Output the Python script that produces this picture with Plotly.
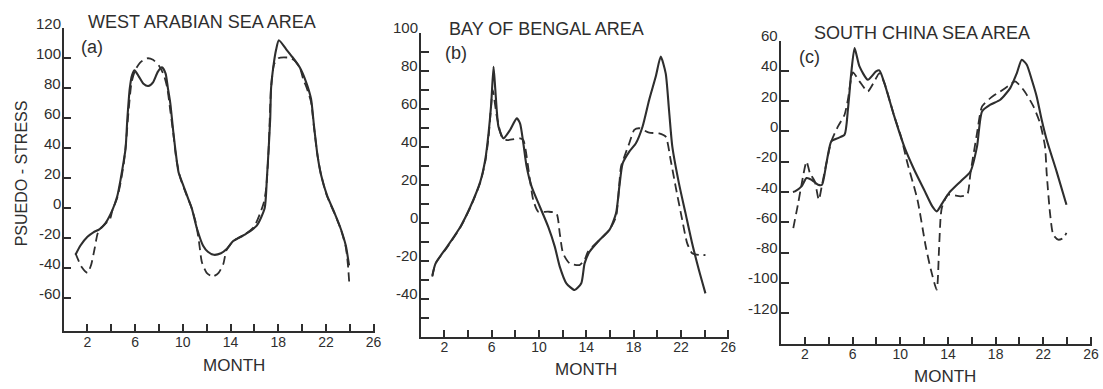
import plotly.graph_objects as go

# ---------------- data ----------------
# (a) West Arabian Sea area
a_solid_month = [1.0, 1.4, 2.0, 2.5, 3.0, 3.5, 4.1, 4.5, 4.8, 5.05, 5.2, 5.35, 5.55, 5.75, 5.95,
                 6.3, 6.7, 7.1, 7.5, 7.9, 8.25, 8.55, 8.75, 8.95, 9.2, 9.36, 9.64, 10.05, 10.47,
                 10.75, 11.2, 11.7, 12.1, 12.6, 13.2, 13.7, 14.2, 15.3, 16.2, 16.86, 17.05, 17.2,
                 17.33, 17.4, 17.6, 17.83, 18.05, 18.67, 19.2, 19.8, 20.3, 20.75, 21.0, 21.3,
                 21.6, 22.1, 22.7, 23.25, 23.67, 23.94]
a_solid_val = [-31, -25, -19, -16, -14, -10, -1, 8, 20, 32, 40, 60, 80, 89, 92,
               88, 83, 81.5, 84, 91, 94, 90, 80, 70, 51, 40, 24, 15, 6,
               0, -14, -25, -29, -31, -30, -27, -22, -17, -11.6, 0, 20, 40,
               60, 80, 95, 106, 112, 106, 100.7, 94, 85, 73, 55, 35,
               22, 8.4, -2.7, -13.8, -25, -38]
a_dash_month = [1.0, 1.5, 2.0, 2.3, 2.6, 2.85, 3.1, 3.9, 4.1, 4.5, 4.8, 5.05, 5.25, 5.45, 5.7,
                6.0, 6.4, 7.0, 7.5, 8.0, 8.4, 8.7, 8.95, 9.2, 9.45, 9.8, 10.3, 10.7, 11.1,
                11.35, 11.6, 12.0, 12.5, 13.0, 13.4, 13.65, 14.0, 14.4, 15.3, 16.0, 16.5,
                16.8, 17.0, 17.2, 17.4, 17.65, 18.0, 18.8, 19.3, 19.8, 20.1, 20.4, 20.75,
                21.0, 21.3, 21.6, 22.1, 22.7, 23.25, 23.67, 23.85, 23.95]
a_dash_val = [-30, -39, -43, -38, -27, -17, -13.5, -7, -1, 7, 18, 30, 45, 65, 84,
              92, 97, 100, 99, 95, 89, 80, 65, 50, 33, 20, 9, 1, -10,
              -22, -36, -43, -45.5, -43, -37, -28, -24, -21, -17, -12, -3,
              4, 14, 40, 80, 96, 100, 100.5, 99, 94, 86, 80, 71,
              54, 35, 22, 8, -3, -14, -26, -38, -49]

# (b) Bay of Bengal area
b_solid_month = [0.97, 1.25, 2.23, 3.35, 4.19, 5.03, 5.45, 5.73, 5.95, 6.15, 6.3, 6.57, 6.99,
                 7.55, 8.11, 8.39, 8.67, 8.95, 9.37, 10.07, 10.77, 11.33, 11.75, 12.31, 13.01,
                 13.57, 13.85, 14.27, 15.11, 15.95, 16.51, 16.79, 17.07, 17.63, 18.19, 18.75,
                 19.31, 19.87, 20.29, 20.71, 20.99, 21.27, 21.83, 22.39, 22.95, 23.52, 24.07]
b_solid_val = [-28, -21.5, -12.7, -2.2, 8.3, 21.5, 33, 47, 62, 82, 70, 50.4, 44.3,
               48.7, 54.8, 52.2, 41.7, 29.4, 18.9, 8.3, -2.2, -12.7, -23.2, -32, -35.5,
               -32, -21.5, -15.4, -9.2, -3.9, 4.8, 18.9, 31.1, 37.3, 41.7, 50.4,
               64.5, 76.8, 87.3, 78.5, 59.2, 39.9, 20.6, 4.8, -11, -25, -37.3]
b_dash_month = [0.97, 1.25, 2.23, 3.35, 4.19, 5.03, 5.45, 5.73, 6.01, 6.09, 6.43, 6.85, 7.27,
                8.39, 8.67, 9.23, 9.51, 9.93, 10.77, 11.47, 11.75, 12.03, 12.59, 13.43, 13.85,
                14.13, 15.11, 15.95, 16.51, 16.93, 17.21, 17.63, 18.05, 18.47, 19.31, 20.15,
                20.71, 21.13, 21.55, 22.11, 22.53, 22.95, 23.52, 24.07]
b_dash_val = [-28.5, -21.5, -13, -2.5, 8, 21, 32, 45, 66.2, 69.7, 55.7, 45.2, 43.4,
              44.3, 43.4, 22.4, 11.8, 5.7, 5.7, 4.8, -5.7, -16.2, -21.5, -22.4, -19.7,
              -15.4, -9.2, -3.9, 3.1, 29.4, 34.6, 41.7, 48.7, 49.6, 47.3, 46.9,
              45.2, 32.9, 18.9, 1.3, -11, -16.2, -17.1, -17.1]

# (c) South China Sea area
c_solid_month = [1.0, 1.17, 1.72, 2.14, 2.56, 3.11, 3.44, 3.81, 4.22, 4.78, 5.33, 5.61, 5.89,
                 6.17, 6.58, 7.28, 7.97, 8.25, 8.67, 9.5, 10.33, 11.17, 12.0, 12.69, 13.06,
                 13.53, 14.08, 15.06, 15.89, 16.44, 16.86, 17.56, 18.39, 19.22, 19.78, 20.19,
                 20.61, 21.03, 21.44, 21.86, 22.28, 23.11, 23.94]
c_solid_val = [-40, -39.6, -36.3, -30.8, -31.9, -35.2, -35.2, -20.9, -6.6, -4.4, -2.2, 14.3, 38.5,
               55, 42.9, 34.1, 39.6, 40.3, 31.9, 9.9, -9.9, -25.3, -38.5, -49.5, -52.8,
               -47.3, -40.7, -33, -26.4, -9.9, 13.2, 17.6, 20.9, 28.6, 38.5, 47.3,
               44, 34.1, 23.1, 7.7, -5.5, -26.4, -48.4]
c_dash_month = [1.03, 1.44, 1.72, 2.14, 2.42, 2.83, 3.17, 3.44, 3.81, 4.22, 4.78, 5.33, 5.61,
                6.03, 6.58, 7.28, 7.83, 8.25, 8.67, 9.5, 10.06, 10.6, 11.44, 12.14, 12.56,
                13.06, 13.25, 13.39, 13.5, 14.0, 15.06, 15.61, 15.89, 16.44, 16.86, 17.56,
                18.39, 19.22, 19.64, 20.33, 21.17, 21.72, 22.14, 22.28, 22.56, 22.83, 23.25,
                23.67, 23.94]
c_dash_val = [-63.8, -47.3, -35.2, -19.8, -27.5, -33, -45.1, -35.2, -20.9, -6.6, 3.3, 11, 20.9,
              38.9, 33, 26.4, 33, 38.5, 31.9, 9.9, -3.3, -20.9, -45, -76, -91,
              -104.5, -78, -56, -50, -41.8, -42.9, -41.8, -27.5, -1.1, 16.5, 22,
              26.4, 30.8, 33, 27.5, 16.5, 5.5, -9.9, -27.5, -53.9, -68.2, -71.5,
              -70.4, -67]

# tick positions and labels
month_ticks = [2, 4, 6, 8, 10, 12, 14, 16, 18, 20, 22, 24, 26]
month_labels = ['2', '', '6', '', '10', '', '14', '', '18', '', '22', '', '26']
a_yticks = [-60, -40, -20, 0, 20, 40, 60, 80, 100, 120]
a_ylabels = ['-60', '-40', '-20', '0', '20', '40', '60', '80', '100', '120']
b_yticks = [-50, -40, -30, -20, -10, 0, 10, 20, 30, 40, 50, 60, 70, 80, 90, 100]
b_ylabels = ['', '-40', '', '-20', '', '0', '', '20', '', '40', '', '60', '', '80', '', '100']
c_yticks = [-120, -100, -80, -60, -40, -20, 0, 20, 40, 60]
c_ylabels = ['-120', '-100', '-80', '-60', '-40', '-20', '0', '20', '40', '60']

titles = ['WEST ARABIAN SEA AREA', 'BAY OF BENGAL AREA', 'SOUTH CHINA SEA AREA']
letters = ['(a)', '(b)', '(c)']

# ---------------- figure ----------------
W, H = 1103, 389
INK = '#2e2e2e'
FONT = 'Liberation Sans, Arial, sans-serif'

fig = go.Figure()

panels = [
    (a_solid_month, a_solid_val, a_dash_month, a_dash_val, 'x', 'y'),
    (b_solid_month, b_solid_val, b_dash_month, b_dash_val, 'x2', 'y2'),
    (c_solid_month, c_solid_val, c_dash_month, c_dash_val, 'x3', 'y3'),
]
for sm, sv, dm, dv, xa, ya in panels:
    fig.add_trace(go.Scatter(x=sm, y=sv, mode='lines', xaxis=xa, yaxis=ya,
                             line=dict(color=INK, width=2.1, shape='spline', smoothing=0.6),
                             showlegend=False, hoverinfo='skip'))
    fig.add_trace(go.Scatter(x=dm, y=dv, mode='lines', xaxis=xa, yaxis=ya,
                             line=dict(color=INK, width=1.8, dash='9px,5px',
                                       shape='spline', smoothing=0.6),
                             showlegend=False, hoverinfo='skip'))


def px_x(p):
    return p / W


def px_y(p):
    return 1 - p / H


common_x = dict(range=[0, 26.1], tickmode='array', tickvals=month_ticks, ticktext=month_labels,
                ticks='inside', ticklen=7, tickwidth=1.6, tickcolor=INK,
                showline=True, linewidth=1.8, linecolor=INK, showgrid=False, zeroline=False,
                tickfont=dict(family=FONT, size=14, color=INK), ticklabelstandoff=-3)
# y tick labels are written as annotations so they can sit just above each tick
common_y = dict(tickmode='array', ticks='inside', ticklen=8, tickwidth=1.6, tickcolor=INK,
                showline=True, linewidth=1.8, linecolor=INK, showgrid=False, zeroline=False,
                showticklabels=False)

# plot-area boxes in pixels: (left, right, top, bottom)
boxes = [(64, 64 + 26.1 * 12, 28.3, 331.3),
         (423.5, 423.5 + 26.1 * 11.9, 32.5, 336.5),
         (786, 786 + 26.1 * 12, 40.5, 343.5)]
yranges = [[-82, 120], [-60, 100], [-140, 60]]
ytickv = [a_yticks, b_yticks, c_yticks]
ytickt = [a_ylabels, b_ylabels, c_ylabels]

ann = []
for i, (l, r, t, b) in enumerate(boxes):
    sfx = '' if i == 0 else str(i + 1)
    fig.layout['xaxis' + sfx] = dict(common_x, domain=[px_x(l), px_x(r)],
                                     anchor='y' + sfx)
    fig.layout['yaxis' + sfx] = dict(common_y, domain=[px_y(b), px_y(t)],
                                     anchor='x' + sfx, range=yranges[i],
                                     tickvals=ytickv[i])
    for v, lab in zip(ytickv[i], ytickt[i]):
        if not lab:
            continue
        ann.append(dict(text=lab, x=0, xref='x' + sfx + ' domain', y=v, yref='y' + sfx,
                        xanchor='right', yanchor='middle', xshift=-1, yshift=5,
                        showarrow=False, font=dict(family=FONT, size=15, color=INK)))

title_pos = [(87, 22), (450, 29), (817, 33)]
letter_pos = [(80, 47), (446, 53), (802, 57)]
month_pos = [(235, 365), (590, 369), (951, 376)]
for i in range(3):
    ann.append(dict(text=titles[i], x=px_x(title_pos[i][0]), y=px_y(title_pos[i][1]),
                    xref='paper', yref='paper', xanchor='left', yanchor='middle',
                    showarrow=False, font=dict(family=FONT, size=18, color=INK)))
    ann.append(dict(text=letters[i], x=px_x(letter_pos[i][0]), y=px_y(letter_pos[i][1]),
                    xref='paper', yref='paper', xanchor='left', yanchor='middle',
                    showarrow=False, font=dict(family=FONT, size=18, color=INK)))
    ann.append(dict(text='MONTH', x=px_x(month_pos[i][0]), y=px_y(month_pos[i][1]),
                    xref='paper', yref='paper', xanchor='center', yanchor='middle',
                    showarrow=False, font=dict(family=FONT, size=17, color=INK)))
ann.append(dict(text='PSUEDO - STRESS', x=px_x(21.5), y=px_y(173), textangle=-90,
                xref='paper', yref='paper', xanchor='center', yanchor='middle',
                showarrow=False, font=dict(family=FONT, size=16, color=INK)))

fig.update_layout(width=W, height=H, margin=dict(l=0, r=0, t=0, b=0),
                  paper_bgcolor='white', plot_bgcolor='white', annotations=ann,
                  showlegend=False)

fig.write_html('out.html')
